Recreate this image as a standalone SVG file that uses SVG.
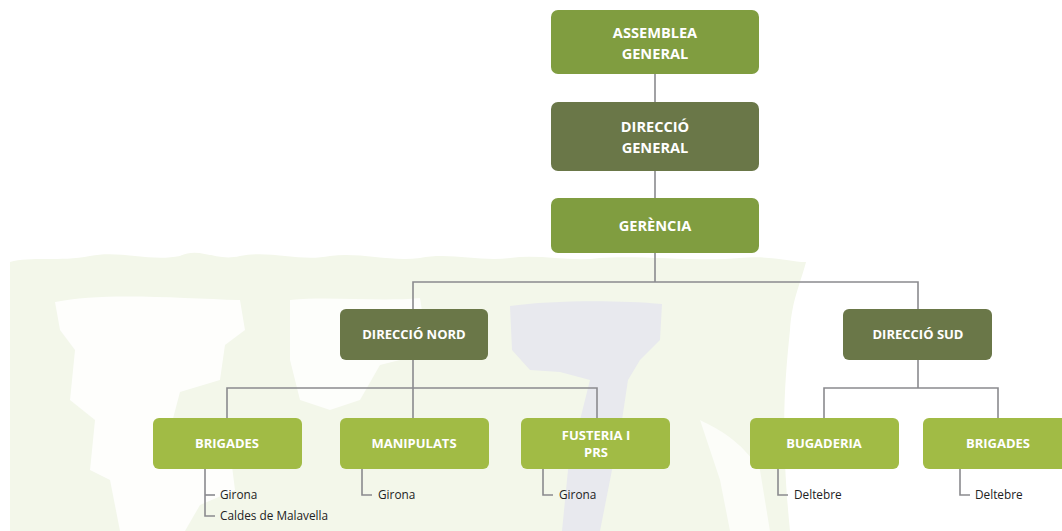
<svg xmlns="http://www.w3.org/2000/svg" width="1062" height="531" viewBox="0 0 1062 531">
<style>
.box{stroke:none}
.light{fill:#a1bb45}
.mid{fill:#809d40}
.dark{fill:#6a7748}
.t{font-family:"Open Sans","Liberation Sans",sans-serif;font-weight:700;font-size:13px;fill:#ffffff;text-anchor:middle}
.tb{font-size:14.6px}
.s{font-family:"Open Sans","Liberation Sans",sans-serif;font-size:11.8px;fill:#222222}
.c{fill:none;stroke:#8a8a8e;stroke-width:1.6}
</style>
<rect width="1062" height="531" fill="#ffffff"/>
<g id="background">
<path d="M10 262 C30 256 60 262 90 256 C120 250 150 262 180 256 C200 246 215 262 240 256 C270 250 300 262 330 256 C360 252 390 262 420 258 C450 252 480 262 510 258 C540 254 570 262 600 258 C640 255 700 262 740 258 C770 255 790 262 806 262 C800 285 792 300 790 330 C785 380 780 430 790 531 L10 531 Z" fill="#f3f7ea"/>
<path d="M55 302 C100 292 180 298 240 300 L245 330 L225 345 L220 380 L180 392 L170 430 L200 440 L230 450 L235 490 L200 505 L185 531 L120 531 L110 480 L90 470 L95 420 L70 400 L75 350 L60 330 Z" fill="#ffffff" opacity="0.85"/>
<path d="M290 300 C330 296 380 302 420 298 L425 330 L400 360 L380 365 L360 400 L330 410 L300 400 L290 360 Z" fill="#ffffff" opacity="0.8"/>
<path d="M510 306 C550 300 620 300 662 304 L660 340 L640 360 L628 380 L622 420 L612 470 L600 531 L562 531 L568 470 L580 420 L590 380 L560 372 L530 370 L512 350 Z" fill="#e8e9ee"/>
<path d="M700 420 C720 430 740 440 760 470 L770 531 L730 531 L720 480 Z" fill="#ffffff" opacity="0.7"/>
</g>
<g id="connectors">
<line class="c" x1="655" y1="74" x2="655" y2="102"/>
<line class="c" x1="655" y1="171" x2="655" y2="198"/>
<polyline class="c" points="655,253 655,282"/>
<polyline class="c" points="413,309 413,282 918,282 918,309"/>
<line class="c" x1="413" y1="360" x2="413" y2="418"/>
<polyline class="c" points="227,418 227,388 597,388 597,418"/>
<polyline class="c" points="824,418 824,388 998,388 998,418"/>
<line class="c" x1="918" y1="360" x2="918" y2="388"/>
<polyline class="c" points="205,469 205,516 215,516"/>
<line class="c" x1="205" y1="495" x2="215" y2="495"/>
<polyline class="c" points="362,469 362,495 372,495"/>
<polyline class="c" points="543,469 543,495 553,495"/>
<polyline class="c" points="778,469 778,495 788,495"/>
<polyline class="c" points="960,469 960,495 970,495"/>
</g>
<g id="n-assemblea"><rect class="box mid" x="551" y="10" width="208" height="64" rx="7"/><text class="t tb" x="655" y="38">ASSEMBLEA</text><text class="t tb" x="655" y="59">GENERAL</text></g>
<g id="n-direccio-general"><rect class="box dark" x="551" y="102" width="208" height="69" rx="7"/><text class="t tb" x="655" y="132">DIRECCIÓ</text><text class="t tb" x="655" y="153">GENERAL</text></g>
<g id="n-gerencia"><rect class="box mid" x="551" y="198" width="208" height="55" rx="7"/><text class="t tb" x="655" y="231">GERÈNCIA</text></g>
<g id="n-nord"><rect class="box dark" x="340" y="309" width="148" height="51" rx="6"/><text class="t" x="414" y="339">DIRECCIÓ NORD</text></g>
<g id="n-sud"><rect class="box dark" x="843" y="309" width="149" height="51" rx="6"/><text class="t" x="918" y="339">DIRECCIÓ SUD</text></g>
<g id="n-brigades1"><rect class="box light" x="153" y="418" width="149" height="51" rx="6"/><text class="t" x="227" y="448">BRIGADES</text></g>
<g id="n-manipulats"><rect class="box light" x="340" y="418" width="149" height="51" rx="6"/><text class="t" x="414" y="448">MANIPULATS</text></g>
<g id="n-fusteria"><rect class="box light" x="521" y="418" width="149" height="51" rx="6"/><text class="t" x="596" y="440">FUSTERIA I</text><text class="t" x="596" y="457">PRS</text></g>
<g id="n-bugaderia"><rect class="box light" x="750" y="418" width="149" height="51" rx="6"/><text class="t" x="824" y="448">BUGADERIA</text></g>
<g id="n-brigades2"><rect class="box light" x="923" y="418" width="150" height="51" rx="6"/><text class="t" x="998" y="448">BRIGADES</text></g>
<g id="sub-items">
<text class="s" x="220" y="499">Girona</text>
<text class="s" x="220" y="520">Caldes de Malavella</text>
<text class="s" x="378" y="499">Girona</text>
<text class="s" x="559" y="499">Girona</text>
<text class="s" x="794" y="499">Deltebre</text>
<text class="s" x="975" y="499">Deltebre</text>
</g>
</svg>
